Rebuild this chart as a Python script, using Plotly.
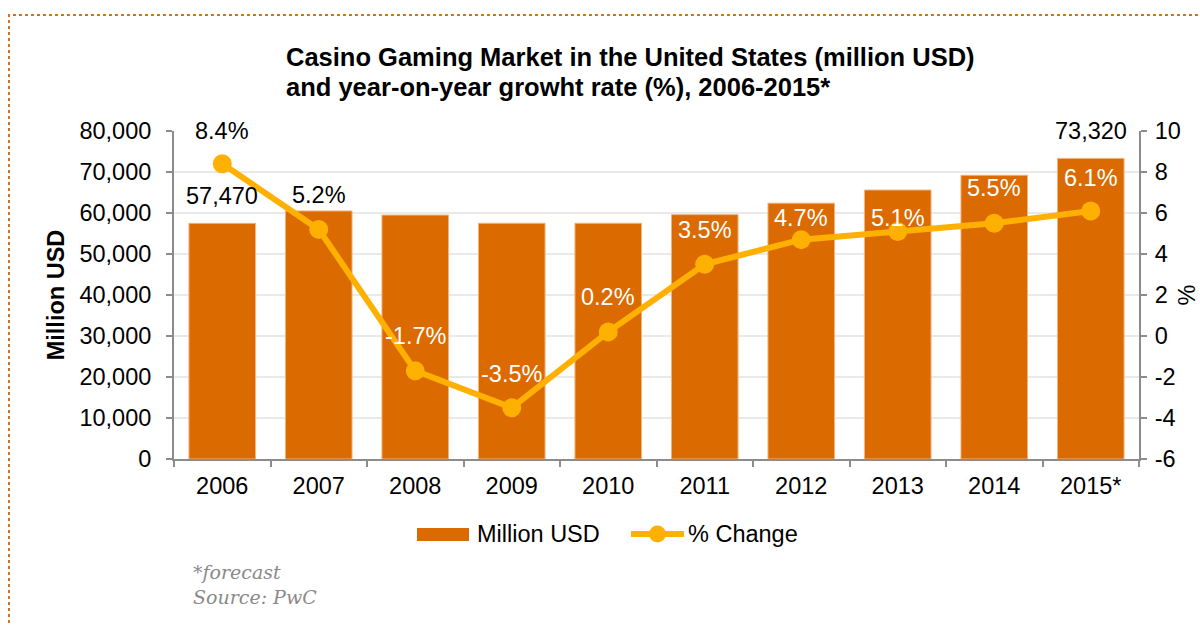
import plotly.graph_objects as go

# Casino gaming market, United States
years = ["2006", "2007", "2008", "2009", "2010", "2011", "2012", "2013", "2014", "2015*"]
market_musd = [57470, 60500, 59500, 57500, 57500, 59600, 62400, 65600, 69200, 73320]
pct_change = [8.4, 5.2, -1.7, -3.5, 0.2, 3.5, 4.7, 5.1, 5.5, 6.1]
labeled_bar_years = ["2006", "2015*"]

left_ticks = list(range(0, 80001, 10000))
right_ticks = list(range(-6, 11, 2))
right_tick_text = [str(t) for t in right_ticks]

# label styling: vertical offset (px) and colour for each percentage label
pct_label_shift = [33, 34, 35, 34, 35, 34, 22, 13, 35, 33]
pct_label_color = ["black", "black"] + ["white"] * 8

BAR_COLOR = "#DB6A00"
LINE_COLOR = "#FFB000"
AXIS_COLOR = "#8C8C8C"
GRID_COLOR = "#E9E9E9"
FONT = "Liberation Sans, Arial, sans-serif"
TXT = 23.5

W, H = 1200, 626
L, R, T, B = 174, 61, 131, 167
PW, PH = W - L - R, H - T - B


def px_x(px):
    return (px - L) / PW


def px_y(py):
    return (H - B - py) / PH


fig = go.Figure()

fig.add_trace(go.Bar(
    x=years, y=market_musd, name="Million USD",
    marker=dict(color=BAR_COLOR, line=dict(color="#F2B27A", width=1)),
    yaxis="y", showlegend=False,
))

fig.add_trace(go.Scatter(
    x=years, y=pct_change, name="% Change", mode="lines+markers",
    line=dict(color=LINE_COLOR, width=6),
    marker=dict(color=LINE_COLOR, size=19),
    yaxis="y2", showlegend=False,
))

annotations = []

# value labels above the first and last bars (x given as category index)
for i, (yr, v) in enumerate(zip(years, market_musd)):
    if yr in labeled_bar_years:
        annotations.append(dict(
            x=i, y=v, xref="x", yref="y", text=f"{v:,}", showarrow=False,
            yshift=27, font=dict(size=TXT, color="black"),
        ))

# percentage labels above the line points
for i, v in enumerate(pct_change):
    annotations.append(dict(
        x=i, y=v, xref="x", yref="y2", text=f"{v:.1f}%", showarrow=False,
        yshift=pct_label_shift[i], font=dict(size=TXT, color=pct_label_color[i]),
    ))

# title, two left-aligned lines
annotations.append(dict(
    x=px_x(284), y=px_y(57), xref="paper", yref="paper", xanchor="left", yanchor="middle",
    text="<b>Casino Gaming Market in the United States (million USD)</b>",
    showarrow=False, font=dict(size=25.5, color="black"),
))
annotations.append(dict(
    x=px_x(284), y=px_y(87), xref="paper", yref="paper", xanchor="left", yanchor="middle",
    text="<b>and year-on-year growht rate (%), 2006-2015*</b>",
    showarrow=False, font=dict(size=25.5, color="black"),
))

# legend entries
annotations.append(dict(
    x=px_x(475), y=px_y(534), xref="paper", yref="paper", xanchor="left", yanchor="middle",
    text="Million USD", showarrow=False, font=dict(size=TXT, color="black"),
))
annotations.append(dict(
    x=px_x(686), y=px_y(534), xref="paper", yref="paper", xanchor="left", yanchor="middle",
    text="% Change", showarrow=False, font=dict(size=TXT, color="black"),
))

# footnote
annotations.append(dict(
    x=px_x(191), y=px_y(572), xref="paper", yref="paper", xanchor="left", yanchor="middle",
    text="*forecast", showarrow=False,
    font=dict(size=19, color="#8A8A8A", family="DejaVu Serif, serif", style="italic"),
))
annotations.append(dict(
    x=px_x(191), y=px_y(597), xref="paper", yref="paper", xanchor="left", yanchor="middle",
    text="Source: PwC", showarrow=False,
    font=dict(size=19, color="#8A8A8A", family="DejaVu Serif, serif", style="italic"),
))

shapes = [
    # dotted frame around the panel
    dict(type="rect", xref="paper", yref="paper",
         x0=px_x(9), x1=px_x(1230), y0=px_y(700), y1=px_y(15),
         line=dict(color="#CC7326", width=2, dash="dot"), layer="below"),
    # legend keys
    dict(type="rect", xref="paper", yref="paper",
         x0=px_x(417), x1=px_x(469), y0=px_y(541), y1=px_y(528),
         fillcolor=BAR_COLOR, line=dict(width=0)),
    dict(type="line", xref="paper", yref="paper",
         x0=px_x(631), x1=px_x(684), y0=px_y(534), y1=px_y(534),
         line=dict(color=LINE_COLOR, width=6)),
    dict(type="circle", xref="paper", yref="paper",
         x0=px_x(649), x1=px_x(666), y0=px_y(542.5), y1=px_y(525.5),
         fillcolor=LINE_COLOR, line=dict(width=0)),
]

fig.update_layout(
    width=W, height=H,
    margin=dict(l=L, r=R, t=T, b=B, pad=0, autoexpand=False),
    plot_bgcolor="white", paper_bgcolor="white",
    font=dict(family=FONT, size=TXT, color="black"),
    bargap=0.31,
    showlegend=False,
    annotations=annotations,
    shapes=shapes,
    xaxis=dict(
        type="category", range=[-0.5, len(years) - 0.5], automargin=False,
        showline=True, linecolor=AXIS_COLOR, linewidth=2,
        ticks="outside", tickson="boundaries", ticklen=6, tickcolor=AXIS_COLOR, tickwidth=2,
        showgrid=False, tickfont=dict(size=TXT), ticklabelstandoff=5, tickangle=0,
    ),
    yaxis=dict(
        range=[0, 80000], tickvals=left_ticks, tickformat=",", automargin=False,
        showline=True, linecolor=AXIS_COLOR, linewidth=2,
        ticks="outside", ticklen=6, tickcolor=AXIS_COLOR, tickwidth=2,
        showgrid=True, gridcolor=GRID_COLOR, gridwidth=2, zeroline=False,
        tickfont=dict(size=TXT), ticklabelstandoff=10,
        title=dict(text="<b>Million USD</b>", font=dict(size=TXT), standoff=8),
    ),
    yaxis2=dict(
        range=[-6, 10], tickvals=right_ticks, ticktext=right_tick_text,
        overlaying="y", side="right", automargin=False,
        showline=True, linecolor=AXIS_COLOR, linewidth=2,
        ticks="outside", ticklen=6, tickcolor=AXIS_COLOR, tickwidth=2,
        showgrid=False, zeroline=False,
        tickfont=dict(size=TXT), ticklabelstandoff=3,
        title=dict(text="%", font=dict(size=TXT), standoff=10),
    ),
)

fig.write_html("out.html")
